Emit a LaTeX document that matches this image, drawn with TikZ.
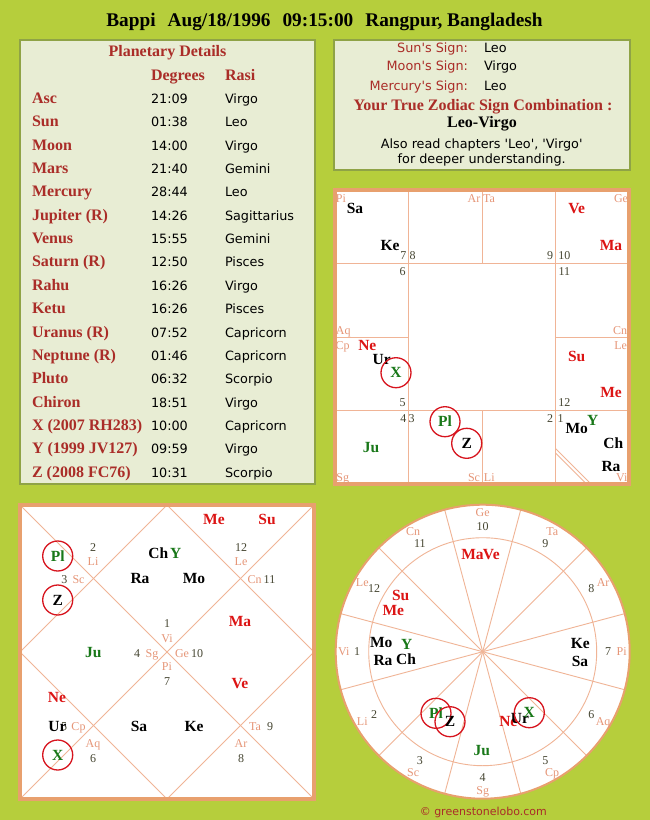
\documentclass[tikz,border=0pt]{standalone}
\usepackage{fontspec}
\setmainfont{Liberation Serif}
\newfontfamily\dv{DejaVu Sans}
\definecolor{bg}{RGB}{182,206,60}
\definecolor{boxfill}{RGB}{232,237,212}
\definecolor{boxline}{RGB}{143,163,70}
\definecolor{chartbd}{RGB}{232,160,110}
\definecolor{gridc}{RGB}{240,180,150}
\definecolor{signc}{RGB}{230,150,120}
\definecolor{numc}{RGB}{70,70,50}
\definecolor{pred}{RGB}{220,20,20}
\definecolor{pgreen}{RGB}{25,120,25}
\definecolor{lab}{RGB}{170,45,40}
\definecolor{ringc}{RGB}{215,20,30}
\tikzset{
 pb/.style={font=\fontsize{15.5}{17}\selectfont\bfseries, text height=10.3pt, text depth=0pt},
 pr/.style={pb, text=pred},
 pg/.style={pb, text=pgreen},
 sgn/.style={font=\fontsize{12}{13}\selectfont, text=signc, text height=8pt, text depth=0pt},
 hno/.style={font=\fontsize{12}{13}\selectfont, text=numc, text height=8pt, text depth=0pt},
 ring/.style={draw=ringc, line width=1.3pt, circle, minimum size=30pt},
 gridl/.style={draw=gridc, line width=0.9pt},
 chartb/.style={draw=chartbd, line width=3.3pt},
 tname/.style={font=\fontsize{16}{18}\selectfont\bfseries, text=lab},
 tdata/.style={font=\dv\fontsize{12.8}{15}\selectfont, text=black},
 rlab/.style={font=\dv\fontsize{12.8}{15}\selectfont, text=lab},
}
\newcommand\PL[5]{\node[#2] (#1) at (#3,#4) {#5};}
\newcommand\CPL[5]{\node[#2] (#1) at (#3,#4) {#5}; \node[ring] (#1r) at (#3,#4) {};}
\begin{document}
\begin{tikzpicture}[x=1pt,y=-1pt, every node/.style={inner sep=0pt, outer sep=0pt}]
\fill[bg] (0,0) rectangle (650,820);
\useasboundingbox (0,0) rectangle (650,820);

% title
\node[font=\fontsize{19.3}{21}\selectfont\bfseries, anchor=base] (title) at (324.5,26)
 {Bappi\hspace{12pt}Aug/18/1996\hspace{12pt}09:15:00\hspace{12pt}Rangpur, Bangladesh};

% planetary details box
\draw[draw=boxline, fill=boxfill, line width=1.5pt] (20,40) rectangle (315,484);
\node[tname, anchor=base] (pdh) at (167.5,56) {Planetary Details};
\node[tname, anchor=base west] (degh) at (151,80) {Degrees};
\node[tname, anchor=base west] (rash) at (225,80) {Rasi};
\foreach \n/\d/\r [count=\i from 0] in {
 Asc/21:09/Virgo, Sun/01:38/Leo, Moon/14:00/Virgo, Mars/21:40/Gemini,
 Mercury/28:44/Leo, {Jupiter (R)}/14:26/Sagittarius, Venus/15:55/Gemini,
 {Saturn (R)}/12:50/Pisces, Rahu/16:26/Virgo, Ketu/16:26/Pisces,
 {Uranus (R)}/07:52/Capricorn, {Neptune (R)}/01:46/Capricorn, Pluto/06:32/Scorpio,
 Chiron/18:51/Virgo, {X (2007 RH283)}/10:00/Capricorn, {Y (1999 JV127)}/09:59/Virgo,
 {Z (2008 FC76)}/10:31/Scorpio}{
 \pgfmathsetmacro\yy{103.3+23.375*\i}
 \node[tname, anchor=base west] (tn\i) at (32,\yy) {\n};
 \node[tdata, anchor=base west] (td\i) at (151,\yy) {\d};
 \node[tdata, anchor=base west] (tr\i) at (225,\yy) {\r};
}

% sign box
\draw[draw=boxline, fill=boxfill, line width=1.5pt] (334,40) rectangle (630,170);
\node[rlab, anchor=base east] (sunl) at (468,52.7) {Sun's Sign:};
\node[rlab, anchor=base east] (moonl) at (468,70.7) {Moon's Sign:};
\node[rlab, anchor=base east] (merl) at (468,90) {Mercury's Sign:};
\node[tdata, anchor=base west] (sunv) at (484,52.7) {Leo};
\node[tdata, anchor=base west] (moonv) at (484,70.7) {Virgo};
\node[tdata, anchor=base west] (merv) at (484,90) {Leo};
\node[tname, anchor=base] (ytz) at (483,110) {Your True Zodiac Sign Combination :};
\node[font=\fontsize{16}{18}\selectfont\bfseries, anchor=base] (lv) at (482,127.3) {Leo-Virgo};
\node[tdata, anchor=base] (also1) at (481.7,148.3) {Also read chapters 'Leo', 'Virgo'};
\node[tdata, anchor=base] (also2) at (481.7,163.3) {for deeper understanding.};

% ---------- South Indian chart ----------
\fill[white] (335,190) rectangle (629,484);
\draw[gridl] (408.5,190) -- (408.5,484);
\draw[gridl] (555.5,190) -- (555.5,484);
\draw[gridl] (482,190) -- (482,263.5);
\draw[gridl] (482,410.5) -- (482,484);
\draw[gridl] (335,263.5) -- (629,263.5);
\draw[gridl] (335,410.5) -- (629,410.5);
\draw[gridl] (335,337) -- (408.5,337);
\draw[gridl] (555.5,337) -- (629,337);
\draw[gridl] (555.5,448.5) -- (591,484);
\draw[gridl] (555.5,453) -- (586.5,484);
\draw[chartb] (335,190) rectangle (629,484);
% signs
\PL{sPi}{sgn}{341}{198.5}{Pi}
\PL{sAr}{sgn}{474}{198.5}{Ar}
\PL{sTa}{sgn}{489}{198.5}{Ta}
\PL{sGe}{sgn}{621}{198.5}{Ge}
\PL{sAq}{sgn}{343.3}{330.7}{Aq}
\PL{sCn}{sgn}{620}{330.7}{Cn}
\PL{sCp}{sgn}{342.7}{345}{Cp}
\PL{sLe}{sgn}{620.7}{345}{Le}
\PL{sSg}{sgn}{342.7}{477.3}{Sg}
\PL{sSc}{sgn}{474}{477.3}{Sc}
\PL{sLi}{sgn}{489.3}{477.3}{Li}
\PL{sVi}{sgn}{621.7}{477.3}{Vi}
% house numbers
\PL{sh7}{hno}{403.3}{255.7}{7}
\PL{sh8}{hno}{412.7}{255.7}{8}
\PL{sh9}{hno}{550}{255.7}{9}
\PL{sh10}{hno}{564.3}{255.7}{10}
\PL{sh6}{hno}{402.7}{271}{6}
\PL{sh11}{hno}{564.3}{271}{11}
\PL{sh5}{hno}{402.7}{402.7}{5}
\PL{sh12}{hno}{564.3}{402.7}{12}
\PL{sh4}{hno}{403.3}{418.3}{4}
\PL{sh3}{hno}{411.7}{418.3}{3}
\PL{sh2}{hno}{550}{418.3}{2}
\PL{sh1}{hno}{560.7}{418.3}{1}
% planets
\PL{sSa}{pb}{355}{208.3}{Sa}
\PL{sKe}{pb}{390}{245}{Ke}
\PL{sVe}{pr}{576.7}{208.3}{Ve}
\PL{sMa}{pr}{611}{245}{Ma}
\PL{sNe}{pr}{367.3}{345}{Ne}
\PL{sUr}{pb}{381.7}{359.3}{Ur}
\CPL{sX}{pg}{396}{372.7}{X}
\PL{sSu}{pr}{576.7}{356}{Su}
\PL{sMe}{pr}{611}{392.3}{Me}
\CPL{sPl}{pg}{445}{421.7}{Pl}
\CPL{sZ}{pb}{466.7}{443.3}{Z}
\PL{sJu}{pg}{371}{447.7}{Ju}
\PL{sMo}{pb}{576.7}{428.3}{Mo}
\PL{sY}{pg}{592.7}{420}{Y}
\PL{sCh}{pb}{613.3}{443.3}{Ch}
\PL{sRa}{pb}{611}{466}{Ra}

% ---------- North Indian chart ----------
\fill[white] (20,505) rectangle (314,799);
\draw[gridl] (20,505) -- (314,799);
\draw[gridl] (314,505) -- (20,799);
\draw[gridl] (167,505) -- (314,652) -- (167,799) -- (20,652) -- cycle;
\draw[chartb] (20,505) rectangle (314,799);
\PL{nh1}{hno}{167}{623}{1}
\PL{nVi}{sgn}{167}{638}{Vi}
\PL{nh4}{hno}{137}{653}{4}
\PL{nSg}{sgn}{152}{653}{Sg}
\PL{nGe}{sgn}{182}{653}{Ge}
\PL{nh10}{hno}{197}{653}{10}
\PL{nPi}{sgn}{167}{666}{Pi}
\PL{nh7}{hno}{167}{681}{7}
\PL{nh2}{hno}{93}{547}{2}
\PL{nLi}{sgn}{93}{561}{Li}
\PL{nh3}{hno}{64.3}{579}{3}
\PL{nSc}{sgn}{78.5}{579}{Sc}
\PL{nh12}{hno}{241}{547}{12}
\PL{nLe}{sgn}{241}{561}{Le}
\PL{nCn}{sgn}{254.5}{579}{Cn}
\PL{nh11}{hno}{269.5}{579}{11}
\PL{nh5}{hno}{64}{726}{5}
\PL{nCp}{sgn}{78.5}{726}{Cp}
\PL{nAq}{sgn}{93}{743}{Aq}
\PL{nh6}{hno}{93}{758}{6}
\PL{nTa}{sgn}{255}{726}{Ta}
\PL{nh9}{hno}{270}{726}{9}
\PL{nAr}{sgn}{241}{743}{Ar}
\PL{nh8}{hno}{241}{758}{8}
% planets
\PL{nMe}{pr}{214}{519}{Me}
\PL{nSu}{pr}{267}{519}{Su}
\CPL{nPl}{pg}{57.7}{556}{Pl}
\CPL{nZ}{pb}{57.7}{600}{Z}
\PL{nCh}{pb}{158.3}{553}{Ch}
\PL{nY}{pg}{175.7}{553}{Y}
\PL{nRa}{pb}{140}{578}{Ra}
\PL{nMo}{pb}{194}{578}{Mo}
\PL{nMa}{pr}{240}{621}{Ma}
\PL{nJu}{pg}{93.3}{652.7}{Ju}
\PL{nVe}{pr}{240}{683}{Ve}
\PL{nNe}{pr}{57}{697}{Ne}
\PL{nUr}{pb}{57.5}{726}{Ur}
\CPL{nX}{pg}{57.7}{755}{X}
\PL{nSa}{pb}{139}{726}{Sa}
\PL{nKe}{pb}{194}{726}{Ke}

% ---------- Circular chart ----------
\coordinate (C) at (482.7,651.7);
\fill[white] (C) circle (147);
\foreach \a in {15,45,...,345} \draw[gridl] (C) -- ++(\a:147);
\draw[gridl] (C) circle (114);
\draw[draw=chartbd, line width=2pt] (C) circle (147);
\foreach \h/\s in {1/Vi,2/Li,3/Sc,4/Sg,5/Cp,6/Aq,7/Pi,8/Ar,9/Ta,10/Ge,11/Cn,12/Le}{
 \pgfmathsetmacro\ang{-(180+30*(\h-1))}
 \node[sgn] (cs\h) at ([shift={(\ang:139)}]C) {\s};
 \node[hno] (ch\h) at ([shift={(\ang:125.5)}]C) {\h};
}
\PL{cMa}{pr}{472.5}{554}{Ma}
\PL{cVe}{pr}{491.3}{554}{Ve}
\PL{cSu}{pr}{400.7}{595.7}{Su}
\PL{cMe}{pr}{393.3}{610}{Me}
\PL{cMo}{pb}{381.3}{642.7}{Mo}
\PL{cY}{pg}{406.7}{644}{Y}
\PL{cRa}{pb}{383}{660.7}{Ra}
\PL{cCh}{pb}{406}{659.3}{Ch}
\PL{cKe}{pb}{580.3}{643.3}{Ke}
\PL{cSa}{pb}{580}{661}{Sa}
\CPL{cPl}{pg}{436}{713.3}{Pl}
\CPL{cZ}{pb}{450}{721.7}{Z}
\PL{cNe}{pr}{508.3}{721.7}{Ne}
\PL{cUr}{pb}{520}{718.3}{Ur}
\CPL{cX}{pg}{529.3}{712.7}{X}
\PL{cJu}{pg}{481.7}{750}{Ju}

\node[font=\dv\fontsize{11}{13}\selectfont, text=lab] (copy) at (483.3,812.7) {© greenstonelobo.com};
\end{tikzpicture}
\end{document}
